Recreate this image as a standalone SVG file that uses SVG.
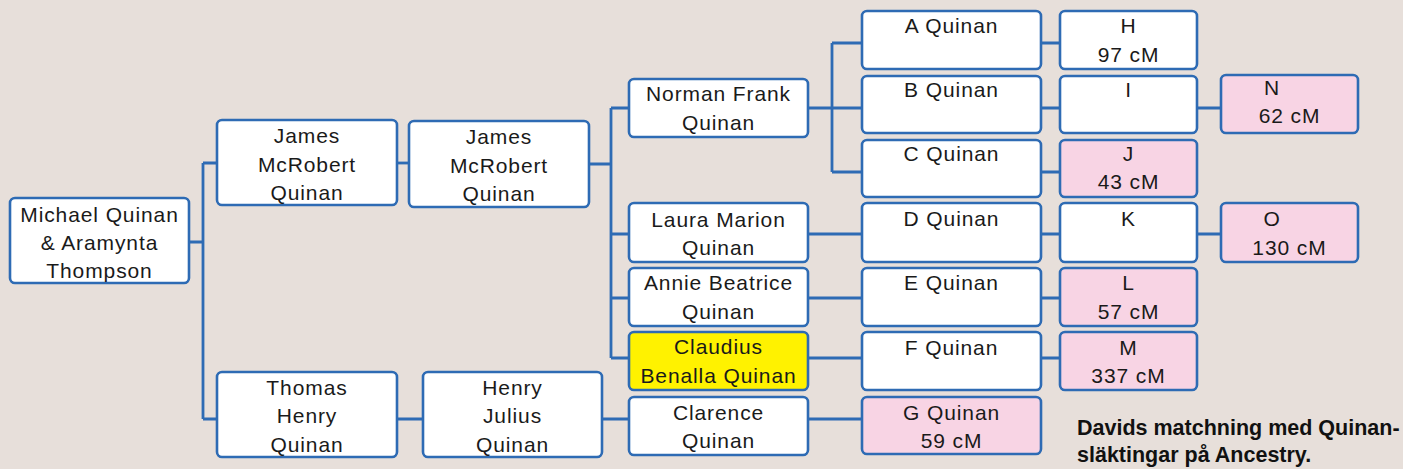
<svg xmlns="http://www.w3.org/2000/svg" width="1403" height="469" viewBox="0 0 1403 469">
<style>
.bg{fill:#E7DFDA}
.n rect{fill:#FFFFFF;stroke:#2E6BB4;stroke-width:2.6}
.n.pink rect{fill:#F8D4E4}
.n.yel rect{fill:#FFF200}
.n text{font-family:"Liberation Sans",Arial,sans-serif;font-size:21px;letter-spacing:0.9px;fill:#1A1A1A;text-anchor:middle}
.c path{fill:none;stroke:#2E6BB4;stroke-width:2.8}
.cap{font-family:"Liberation Sans",Arial,sans-serif;font-size:21.5px;font-weight:bold;fill:#111}
</style>
<rect class="bg" x="0" y="0" width="1403" height="469"/>
<g id="connectors" class="c">
<path d="M189 242H203M203 163V419M203 163H217M203 419H217"/>
<path d="M397 163H409"/>
<path d="M589 164H611M611 108V358M611 108H629M611 234H629M611 298H629M611 358H629"/>
<path d="M808 108H832M832 43V172M832 43H862M832 108H862M832 172H862"/>
<path d="M1041 43H1060M1041 108H1060M1041 172H1060M1197 108H1221"/>
<path d="M808 234H862M1041 234H1060M1197 234H1221"/>
<path d="M808 298H862M1041 298H1060"/>
<path d="M808 358H862M1041 358H1060"/>
<path d="M397 419H423M602 419H629M808 419H862"/>
</g>
<g id="michael" class="n"><rect x="10" y="198" width="179" height="85" rx="5"/><text x="99.5" y="222">Michael Quinan</text><text x="99.5" y="250">&amp; Aramynta</text><text x="99.5" y="278">Thompson</text></g>
<g id="james1" class="n"><rect x="217" y="120" width="180" height="85" rx="5"/><text x="307" y="143">James</text><text x="307" y="172">McRobert</text><text x="307" y="200">Quinan</text></g>
<g id="james2" class="n"><rect x="409" y="121" width="180" height="86" rx="5"/><text x="499" y="144">James</text><text x="499" y="173">McRobert</text><text x="499" y="201">Quinan</text></g>
<g id="thomas" class="n"><rect x="217" y="372" width="180" height="85" rx="5"/><text x="307" y="395">Thomas</text><text x="307" y="423">Henry</text><text x="307" y="452">Quinan</text></g>
<g id="henryjulius" class="n"><rect x="423" y="372" width="179" height="85" rx="5"/><text x="512.5" y="395">Henry</text><text x="512.5" y="423">Julius</text><text x="512.5" y="452">Quinan</text></g>
<g id="norman" class="n"><rect x="629" y="79" width="179" height="58" rx="5"/><text x="718.5" y="101">Norman Frank</text><text x="718.5" y="130">Quinan</text></g>
<g id="laura" class="n"><rect x="629" y="203" width="179" height="59" rx="5"/><text x="718.5" y="227">Laura Marion</text><text x="718.5" y="255">Quinan</text></g>
<g id="annie" class="n"><rect x="629" y="268" width="179" height="58" rx="5"/><text x="718.5" y="290">Annie Beatrice</text><text x="718.5" y="319">Quinan</text></g>
<g id="claudius" class="n yel"><rect x="629" y="332" width="179" height="58" rx="5"/><text x="718.5" y="354">Claudius</text><text x="718.5" y="383">Benalla Quinan</text></g>
<g id="clarence" class="n"><rect x="629" y="397" width="179" height="58" rx="5"/><text x="718.5" y="420">Clarence</text><text x="718.5" y="448">Quinan</text></g>
<g id="a" class="n"><rect x="862" y="11" width="179" height="58" rx="5"/><text x="951.5" y="33">A Quinan</text></g>
<g id="b" class="n"><rect x="862" y="76" width="179" height="57" rx="5"/><text x="951.5" y="97">B Quinan</text></g>
<g id="c" class="n"><rect x="862" y="140" width="179" height="57" rx="5"/><text x="951.5" y="161">C Quinan</text></g>
<g id="d" class="n"><rect x="862" y="203" width="179" height="59" rx="5"/><text x="951.5" y="226">D Quinan</text></g>
<g id="e" class="n"><rect x="862" y="268" width="179" height="58" rx="5"/><text x="951.5" y="290">E Quinan</text></g>
<g id="f" class="n"><rect x="862" y="332" width="179" height="58" rx="5"/><text x="951.5" y="355">F Quinan</text></g>
<g id="g" class="n pink"><rect x="862" y="397" width="179" height="57" rx="5"/><text x="951.5" y="420">G Quinan</text><text x="951.5" y="448">59 cM</text></g>
<g id="h" class="n"><rect x="1060" y="11" width="137" height="58" rx="5"/><text x="1128.5" y="33">H</text><text x="1128.5" y="62">97 cM</text></g>
<g id="i" class="n"><rect x="1060" y="76" width="137" height="57" rx="5"/><text x="1128.5" y="97">I</text></g>
<g id="j" class="n pink"><rect x="1060" y="140" width="137" height="57" rx="5"/><text x="1128.5" y="161">J</text><text x="1128.5" y="189">43 cM</text></g>
<g id="k" class="n"><rect x="1060" y="203" width="137" height="59" rx="5"/><text x="1128.5" y="226">K</text></g>
<g id="l" class="n pink"><rect x="1060" y="268" width="137" height="58" rx="5"/><text x="1128.5" y="290">L</text><text x="1128.5" y="319">57 cM</text></g>
<g id="m" class="n pink"><rect x="1060" y="332" width="137" height="58" rx="5"/><text x="1128.5" y="355">M</text><text x="1128.5" y="383">337 cM</text></g>
<g id="nn" class="n pink"><rect x="1221" y="75" width="137" height="58" rx="5"/><text x="1272" y="95">N</text><text x="1289.5" y="123">62 cM</text></g>
<g id="o" class="n pink"><rect x="1221" y="203" width="137" height="59" rx="5"/><text x="1272" y="226">O</text><text x="1289.5" y="255">130 cM</text></g>
<g id="caption"><text class="cap" x="1077" y="435">Davids matchning med Quinan-</text><text class="cap" x="1077" y="462">släktingar på Ancestry.</text></g>
</svg>
